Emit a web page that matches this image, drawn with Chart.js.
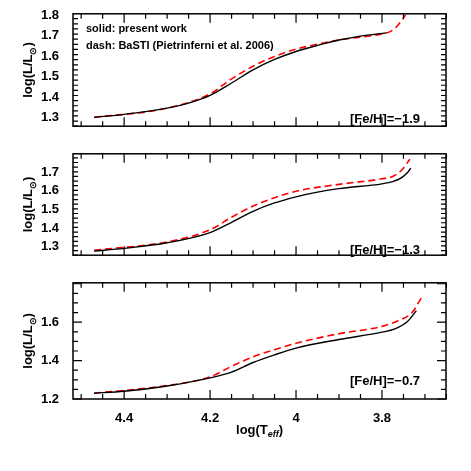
<!DOCTYPE html>
<html><head>
<script src="https://cdn.jsdelivr.net/npm/chart.js@4"></script>
<style>
body{margin:0;background:#fff;}
canvas{position:absolute;left:0;}
</style>
</head><body>
<canvas id="c1" style="top:0"></canvas>
<canvas id="c2" style="top:140px"></canvas>
<canvas id="c3" style="top:269px"></canvas>
<script>
// log(Teff) / log(L/Lsun) pairs
const solid19 = [[4.47,1.30],[4.4,1.315],[4.3,1.345],[4.25,1.37],[4.2,1.408],[4.15,1.468],[4.1,1.532],[4.05,1.583],[4.0,1.622],[3.95,1.652],[3.9,1.678],[3.85,1.697],[3.79,1.713]]
const dash19 = [[4.47,1.30],[4.3,1.345],[4.2,1.415],[4.15,1.488],[4.1,1.55],[4.05,1.598],[4.0,1.633],[3.9,1.678],[3.8,1.708],[3.78,1.72],[3.765,1.745],[3.745,1.80]]
const solid13 = [[4.47,1.275],[4.4,1.29],[4.3,1.32],[4.2,1.375],[4.15,1.43],[4.1,1.49],[4.05,1.535],[4.0,1.568],[3.95,1.593],[3.9,1.612],[3.8,1.638],[3.775,1.65],[3.755,1.67],[3.74,1.70],[3.733,1.722]]
const dash13 = [[4.47,1.28],[4.3,1.325],[4.2,1.39],[4.15,1.458],[4.1,1.518],[4.05,1.563],[4.0,1.598],[3.9,1.635],[3.8,1.665],[3.775,1.678],[3.755,1.71],[3.735,1.77]]
const solid07 = [[4.47,1.23],[4.4,1.24],[4.3,1.268],[4.2,1.31],[4.15,1.34],[4.1,1.39],[4.05,1.43],[4.0,1.465],[3.9,1.51],[3.8,1.548],[3.77,1.565],[3.74,1.605],[3.72,1.66]]
const dash07 = [[4.47,1.23],[4.3,1.27],[4.2,1.315],[4.15,1.37],[4.1,1.42],[4.05,1.457],[4.0,1.49],[3.9,1.54],[3.8,1.578],[3.76,1.61],[3.73,1.65],[3.705,1.74]]
const xTicks = [4.4, 4.2, 4.0, 3.8]
const yTicks1 = [1.3, 1.4, 1.5, 1.6, 1.7, 1.8]
const yTicks2 = [1.3, 1.4, 1.5, 1.6, 1.7]
const yTicks3 = [1.2, 1.4, 1.6]

const FONT = 'Liberation Sans'
const pts = a => a.map(p => ({x: p[0], y: p[1]}))

// inward ticks on all four sides plus frame and titles
const frame = {
  id: 'frame',
  afterDraw(chart, args, o) {
    const c = chart.ctx, a = chart.chartArea, xs = chart.scales.x, ys = chart.scales.y
    c.save()
    c.strokeStyle = '#000'
    c.lineWidth = 1.5
    c.strokeRect(a.left, a.top, a.right - a.left, a.bottom - a.top)
    c.lineWidth = 1.2
    for (let v = 3.65; v <= 4.52; v += 0.05) {
      const vv = Math.round(v * 100) / 100
      const major = Math.abs(Math.round(vv * 5) - vv * 5) < 1e-6
      const L = major ? 9 : 5, px = xs.getPixelForValue(vv)
      c.beginPath()
      c.moveTo(px, a.bottom); c.lineTo(px, a.bottom - L)
      c.moveTo(px, a.top); c.lineTo(px, a.top + L)
      c.stroke()
    }
    for (let v = o.ymin; v <= o.ymax + 1e-6; v += o.minor) {
      const vv = Math.round(v * 1000) / 1000
      const major = Math.abs(vv / o.major - Math.round(vv / o.major)) < 1e-6
      const L = major ? 9 : 5, py = ys.getPixelForValue(vv)
      if (py < a.top - 0.5 || py > a.bottom + 0.5) continue
      c.beginPath()
      c.moveTo(a.left, py); c.lineTo(a.left + L, py)
      c.moveTo(a.right, py); c.lineTo(a.right - L, py)
      c.stroke()
    }
    c.fillStyle = '#000'
    c.font = 'bold 13px ' + FONT
    c.textAlign = 'right'
    c.textBaseline = 'alphabetic'
    c.fillText(o.label, a.right - 26, o.labelY)
    if (o.notes) {
      c.textAlign = 'left'
      c.font = 'bold 11px ' + FONT
      o.notes.forEach((t, i) => c.fillText(t, a.left + 13, a.top + 18 + i * 17))
    }
    // y title
    c.save()
    c.translate(32, (a.top + a.bottom) / 2)
    c.rotate(-Math.PI / 2)
    c.font = 'bold 13px ' + FONT
    const t1 = 'log(L/L', w1 = c.measureText(t1).width
    c.font = 'bold 9px ' + FONT
    const w2 = c.measureText('\u2299').width
    c.font = 'bold 13px ' + FONT
    const w3 = c.measureText(')').width
    let x0 = -(w1 + w2 + w3) / 2
    c.textAlign = 'left'
    c.fillText(t1, x0, 0)
    c.font = 'bold 9px ' + FONT
    c.fillText('\u2299', x0 + w1, 4)
    c.font = 'bold 13px ' + FONT
    c.fillText(')', x0 + w1 + w2, 0)
    c.restore()
    if (o.xtitle) {
      c.font = 'bold 13px ' + FONT
      c.textAlign = 'left'
      const s1 = 'log(T', v1 = c.measureText(s1).width
      c.font = 'italic bold 9px ' + FONT
      const v2 = c.measureText('eff').width
      c.font = 'bold 13px ' + FONT
      const v3 = c.measureText(')').width
      let x1 = (a.left + a.right) / 2 - (v1 + v2 + v3) / 2, y1 = a.bottom + 35
      c.fillText(s1, x1, y1)
      c.font = 'italic bold 9px ' + FONT
      c.fillText('eff', x1 + v1, y1 + 3)
      c.font = 'bold 13px ' + FONT
      c.fillText(')', x1 + v1 + v2, y1)
    }
    c.restore()
  }
}

function panel(id, h, solid, dash, yTicks, ymin, ymax, major, opts) {
  const el = document.getElementById(id)
  el.width = 471; el.height = h
  el.style.width = '471px'; el.style.height = h + 'px'
  return new Chart(el, {
    type: 'line',
    data: {datasets: [
      {data: pts(solid), borderColor: '#000', borderWidth: 1.4, pointRadius: 0, tension: 0.4, cubicInterpolationMode: 'monotone'},
      {data: pts(dash), borderColor: '#ff0000', borderWidth: 1.6, borderDash: [7, 4], pointRadius: 0, tension: 0.4, cubicInterpolationMode: 'monotone'}
    ]},
    options: {
      responsive: false, animation: false,
      layout: {padding: {top: opts.top, right: 25, bottom: 0, left: 0}},
      plugins: {legend: {display: false}, tooltip: {enabled: false},
        frame: Object.assign({ymin, ymax, major, minor: major / 4}, opts)},
      scales: {
        x: {type: 'linear', reverse: true, min: 3.651, max: 4.519,
          grid: {display: false}, border: {display: false},
          afterBuildTicks: s => { s.ticks = xTicks.map(v => ({value: v})) },
          afterFit: s => { s.height = opts.xtitle ? 72 : 0 },
          ticks: {display: !!opts.xtitle, color: '#000', padding: 4, font: {family: FONT, size: 13, weight: 'bold'},
            callback: v => String(Math.round(v * 10) / 10)}},
        y: {type: 'linear', min: ymin, max: ymax,
          grid: {display: false}, border: {display: false},
          afterBuildTicks: s => { s.ticks = yTicks.map(v => ({value: v})) },
          afterFit: s => { s.width = 73 },
          ticks: {color: '#000', padding: 6, font: {family: FONT, size: 13, weight: 'bold'},
            callback: v => v.toFixed(1)}}
      }
    },
    plugins: [frame]
  })
}

panel('c1', 140, solid19, dash19, yTicks1, 1.257, 1.806, 0.1,
  {top: 11, label: '[Fe/H]=\u22121.9', labelY: 123,
   notes: ['solid: present work', 'dash: BaSTI (Pietrinferni et al. 2006)']})
panel('c2', 129, solid13, dash13, yTicks2, 1.253, 1.80, 0.1,
  {top: 0, label: '[Fe/H]=\u22121.3', labelY: 114})
panel('c3', 202, solid07, dash07, yTicks3, 1.2, 1.805, 0.2,
  {top: 0, label: '[Fe/H]=\u22120.7', labelY: 116, xtitle: true})
</script>
</body></html>
